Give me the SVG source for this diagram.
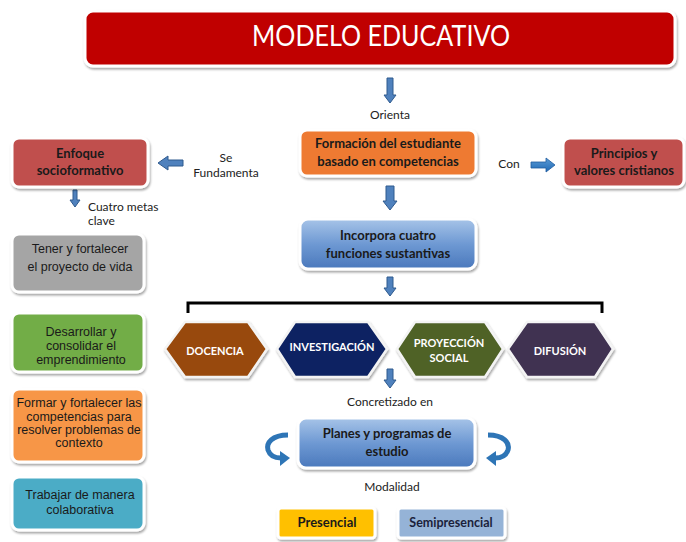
<svg xmlns="http://www.w3.org/2000/svg" width="686" height="542" viewBox="0 0 686 542">
<defs>
<filter id="sh" x="-10%" y="-15%" width="125%" height="150%"><feDropShadow dx="1" dy="2" stdDeviation="1.3" flood-color="#000" flood-opacity="0.35"/></filter>
<linearGradient id="blueG" x1="0" y1="0" x2="0" y2="1"><stop offset="0" stop-color="#A7C4E8"/><stop offset="0.5" stop-color="#6E99D3"/><stop offset="1" stop-color="#4A78BC"/></linearGradient>
<linearGradient id="arrG" x1="0" y1="0" x2="0" y2="1"><stop offset="0" stop-color="#5B9BD5"/><stop offset="1" stop-color="#1F69B5"/></linearGradient>
<style>
.box{stroke:#fff;stroke-width:3;filter:url(#sh)}
.hex{stroke:#f4f4f4;stroke-width:2.5;filter:url(#sh)}
.t{font-family:Lato,"Open Sans","Liberation Sans",sans-serif;text-anchor:middle;fill:#1a1a1a}
.b{font-weight:bold}
.a{font-family:"Liberation Sans",Arial,sans-serif;text-anchor:middle;fill:#1a1a1a;font-size:12.5px}
.lbl{font-family:Lato,"Open Sans","Liberation Sans",sans-serif;font-size:12px;fill:#222}
.hx{font-family:Lato,"Open Sans","Liberation Sans",sans-serif;font-size:11px;font-weight:bold;fill:#fff;text-anchor:middle}
.arr{fill:#4F81BD;stroke:#2F5A8E;stroke-width:1}
.curve{fill:none;stroke:#2E75B6;stroke-width:5;stroke-linecap:butt}
</style>
</defs>

<g id="connectors">
<polygon class="arr" points="387,78 393,78 393,95 396,95 390,103 384,95 387,95"/>
<polygon class="arr" points="386,186 394,186 394,201 397,201 390,210 383,201 386,201"/>
<polygon class="arr" points="387,277 393,277 393,288 396,288 390,296 384,288 387,288"/>
<polygon class="arr" points="387,369 393,369 393,380 396,380 390,388 384,380 387,380"/>
<polygon class="arr" points="183,160 168,160 168,156 158,163 168,170 168,166 183,166"/>
<polygon class="arr" points="73,190 77,190 77,200 80,200 75,207 70,200 73,200"/>
<polygon points="531,162 546,162 546,158 555,165 546,172 546,168 531,168" fill="url(#arrG)" stroke="#1F5C9E" stroke-width="0.8"/>
<path d="M188,313 V303 H602 V313" fill="none" stroke="#000" stroke-width="3"/>
<g id="curve-left">
<path class="curve" d="M288,435 C272,435 266,443 268,450 C270,456 275,458 281,458"/>
<polygon points="280,451 290,458 280,466" fill="#2E75B6"/>
</g>
<g id="curve-right" transform="translate(776,0) scale(-1,1)">
<path class="curve" d="M288,435 C272,435 266,443 268,450 C270,456 275,458 281,458"/>
<polygon points="280,451 290,458 280,466" fill="#2E75B6"/>
</g>
</g>

<g id="title">
<rect class="box" x="85" y="11" width="590" height="55" rx="8" fill="#C00000"/>
<text class="t" x="381" y="46" font-size="28" style="fill:#fff" textLength="258" lengthAdjust="spacingAndGlyphs">MODELO EDUCATIVO</text>
</g>
<text class="lbl" x="390" y="119" text-anchor="middle">Orienta</text>

<g id="formacion">
<rect class="box" x="300" y="130" width="176" height="46" rx="7" fill="#EE7A30"/>
<text class="t b" x="388" y="148" font-size="13">Formación del estudiante</text>
<text class="t b" x="388" y="166" font-size="13">basado en competencias</text>
</g>

<g id="incorpora">
<rect class="box" x="300" y="219" width="176" height="50" rx="8" fill="url(#blueG)"/>
<text class="t b" x="388" y="240" font-size="13">Incorpora cuatro</text>
<text class="t b" x="388" y="258" font-size="13">funciones sustantivas</text>
</g>

<text class="lbl" x="509" y="168" text-anchor="middle">Con</text>
<g id="principios">
<rect class="box" x="563" y="138" width="121" height="49" rx="7" fill="#C0504D"/>
<text class="t b" x="624" y="158" font-size="13">Principios y</text>
<text class="t b" x="624" y="175" font-size="13">valores cristianos</text>
</g>

<g id="enfoque">
<rect class="box" x="12" y="138" width="136" height="49" rx="7" fill="#C0504D"/>
<text class="t b" x="80" y="158" font-size="13">Enfoque</text>
<text class="t b" x="80" y="175" font-size="13">socioformativo</text>
</g>
<text class="lbl" x="226" y="162" text-anchor="middle">Se</text>
<text class="lbl" x="226" y="177" text-anchor="middle">Fundamenta</text>
<text class="lbl" x="88" y="211" font-size="11">Cuatro metas</text>
<text class="lbl" x="88" y="225" font-size="11">clave</text>

<g id="tener">
<rect class="box" x="12" y="234" width="132" height="58" rx="7" fill="#A5A5A5"/>
<text class="a" x="80" y="253">Tener y fortalecer</text>
<text class="a" x="80" y="271">el proyecto de vida</text>
</g>
<g id="desarrollar">
<rect class="box" x="12" y="313" width="132" height="59" rx="7" fill="#72AD47"/>
<text class="a" x="81" y="336">Desarrollar y</text>
<text class="a" x="81" y="350">consolidar el</text>
<text class="a" x="81" y="364">emprendimiento</text>
</g>
<g id="formar">
<rect class="box" x="12" y="389" width="132" height="73" rx="7" fill="#F79646"/>
<text class="a" x="79" y="407">Formar y fortalecer las</text>
<text class="a" x="79" y="421">competencias para</text>
<text class="a" x="79" y="434">resolver problemas de</text>
<text class="a" x="79" y="447">contexto</text>
</g>
<g id="trabajar">
<rect class="box" x="12" y="477" width="132" height="53" rx="7" fill="#4BACC6"/>
<text class="a" x="80" y="499">Trabajar de manera</text>
<text class="a" x="80" y="514">colaborativa</text>
</g>

<g id="docencia">
<polygon class="hex" points="165,349 185,322 248,322 267,349 248,377 185,377" fill="#984807"/>
<text class="hx" x="215" y="355">DOCENCIA</text>
</g>
<g id="investigacion">
<polygon class="hex" points="277,349 295,322 368,322 387,349 368,377 295,377" fill="#0E2462"/>
<text class="hx" x="332" y="351">INVESTIGACIÓN</text>
</g>
<g id="proyeccion">
<polygon class="hex" points="397,349 415,322 485,322 503,349 485,377 415,377" fill="#4F6228"/>
<text class="hx" x="449" y="347">PROYECCIÓN</text>
<text class="hx" x="449" y="362">SOCIAL</text>
</g>
<g id="difusion">
<polygon class="hex" points="508,349 527,322 595,322 613,349 595,377 527,377" fill="#3F3151"/>
<text class="hx" x="560" y="355">DIFUSIÓN</text>
</g>

<text class="lbl" x="390" y="406" text-anchor="middle">Concretizado en</text>
<g id="planes">
<rect class="box" x="298" y="418" width="177" height="50" rx="8" fill="url(#blueG)"/>
<text class="t b" x="387" y="438" font-size="13">Planes y programas de</text>
<text class="t b" x="387" y="456" font-size="13">estudio</text>
</g>
<text class="lbl" x="392" y="491" text-anchor="middle">Modalidad</text>
<g id="presencial">
<rect class="box" x="278" y="508" width="97" height="30" rx="3" fill="#FFC000"/>
<text class="t b" x="327" y="527" font-size="13">Presencial</text>
</g>
<g id="semipresencial">
<rect class="box" x="398" y="508" width="107" height="30" rx="3" fill="#95B3D7"/>
<text class="t b" x="451" y="527" font-size="12.5" style="fill:#1b1f3b">Semipresencial</text>
</g>
</svg>
